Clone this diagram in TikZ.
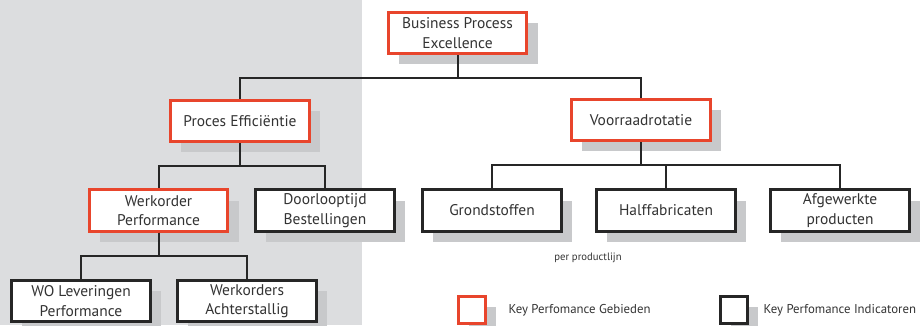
\documentclass[tikz,border=0pt]{standalone}
\usepackage{fontspec}
\setmainfont{PT Sans}
\usetikzlibrary{shadows}
\definecolor{kpgred}{HTML}{E8452C}
\definecolor{bggray}{HTML}{DCDDDF}
\definecolor{shadegray}{HTML}{C8C9CB}
\definecolor{txtgray}{HTML}{333333}
\tikzset{
  kpi/.style={draw=black!85, line width=2.2pt, fill=white, align=center,
    minimum width=104pt, minimum height=31pt, inner sep=1pt,
    text=txtgray, font=\fontsize{11.6}{14.5}\selectfont,
    drop shadow={shadow xshift=8pt, shadow yshift=-8pt, fill=shadegray, opacity=1}},
  kpg/.style={kpi, draw=kpgred},
  tak/.style={line width=1.5pt, draw=black!85},
  legbox/.style={minimum width=20pt, minimum height=20pt, text=txtgray},
  legtekst/.style={anchor=west, text=txtgray, font=\fontsize{9.6}{12}\selectfont}
}
\begin{document}
\begin{tikzpicture}[x=0.75pt,y=-0.75pt]
\useasboundingbox (0,0) rectangle (921,325);
\fill[bggray] (0,0) rectangle (362,325);

% doelen en indicatoren
\node[kpg] (bpe) at (457.5,33) {Business Process\\Excellence};
\node[kpg] (proces) at (240,121) {Proces Efficiëntie};
\node[kpg] (voorraad) at (641,120) {Voorraadrotatie};
\node[kpg] (werkorder) at (158.5,210.5) {Werkorder\\Performance};
\node[kpi] (doorloop) at (325,210.5) {Doorlooptijd\\Bestellingen};
\node[kpi] (wolev) at (81,301) {WO Leveringen\\Performance};
\node[kpi] (woachter) at (247,301) {Werkorders\\Achterstallig};
\node[kpi] (grond) at (492,210.5) {Grondstoffen};
\node[kpi] (half) at (666,210.5) {Halffabricaten};
\node[kpi] (afgew) at (840,210.5) {Afgewerkte\\producten};

\foreach \ouder/\kind in {bpe/proces,bpe/voorraad,proces/werkorder,proces/doorloop,
    werkorder/wolev,werkorder/woachter,voorraad/grond,voorraad/half,voorraad/afgew}
  \draw[tak] (\ouder.south) -- ++(0,23) -| (\kind.north);

\node[text=txtgray, font=\fontsize{8}{9}\selectfont] (perlijn) at (588,258) {per productlijn};

% legenda
\node[kpg, legbox] (legkpg) at (472,310) {};
\node[legtekst] (legkpgtxt) at (504,310) {Key Perfomance Gebieden};
\node[kpi, legbox] (legkpi) at (734,310) {};
\node[legtekst] (legkpitxt) at (759,310) {Key Perfomance Indicatoren};
\end{tikzpicture}
\end{document}
